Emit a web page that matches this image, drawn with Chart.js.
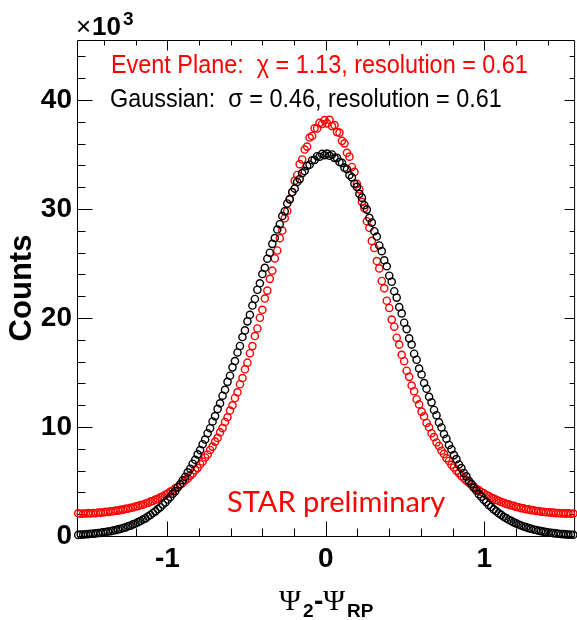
<!DOCTYPE html>
<html><head><meta charset="utf-8">
<script src="https://cdn.jsdelivr.net/npm/chart.js@4/dist/chart.umd.min.js"></script>
<style>html,body{margin:0;padding:0;overflow:hidden;background:#fff}canvas{display:block}</style>
</head><body>
<canvas id="c" width="580" height="620"></canvas>
<script>
// Histogram range: Psi_2 - Psi_RP from -pi/2 to pi/2, 200 bins
const X_MIN = -Math.PI / 2, X_MAX = Math.PI / 2;
const N_BINS = 200;
const binCenters = Array.from({length: N_BINS}, (_, i) => X_MIN + (i + 0.5) * (X_MAX - X_MIN) / N_BINS);

// Counts (red: event plane), left half then right half
const eventPlaneLeft = [
  2080, 2040, 2070, 2060, 2100, 2070, 2110, 2090, 2150, 2140,
  2160, 2210, 2200, 2260, 2270, 2330, 2330, 2400, 2420, 2490,
  2510, 2590, 2610, 2700, 2740, 2840, 2870, 2980, 3030, 3150,
  3210, 3340, 3410, 3560, 3640, 3790, 3890, 4070, 4180, 4370,
  4500, 4720, 4870, 5110, 5280, 5540, 5740, 6030, 6250, 6580,
  6830, 7200, 7480, 7890, 8200, 8660, 9000, 9510, 9900, 10460,
  10890, 11510, 11990, 12660, 13180, 13920, 14490, 15290, 15900, 16770,
  17420, 18340, 19040, 20020, 20750, 21780, 22510, 23590, 24340, 25460,
  26190, 27320, 28020, 29150, 29820, 30920, 31540, 32580, 33120, 34110,
  34540, 35450, 35720, 36550, 36700, 37400, 37380, 37900, 37800, 38150
];
const eventPlaneRight = [
  37850, 38180, 37600, 37700, 37050, 37000, 36250, 36020, 35150, 34800,
  33850, 33400, 32300, 31800, 30650, 30080, 28880, 28270, 27070, 26420,
  25220, 24550, 23390, 22720, 21580, 20920, 19850, 19200, 18190, 17560,
  16620, 16030, 15160, 14600, 13800, 13280, 12550, 12070, 11410, 10970,
  10370, 9970, 9430, 9070, 8580, 8260, 7820, 7530, 7140, 6880,
  6530, 6290, 5990, 5770, 5500, 5310, 5070, 4900, 4680, 4530,
  4340, 4210, 4030, 3920, 3760, 3660, 3520, 3440, 3310, 3230,
  3120, 3050, 2950, 2900, 2800, 2760, 2670, 2640, 2560, 2530,
  2460, 2440, 2370, 2360, 2300, 2290, 2230, 2230, 2180, 2180,
  2140, 2140, 2100, 2110, 2070, 2090, 2050, 2080, 2040, 2070
];
// Counts (black: Gaussian), left half then right half
const gaussianLeft = [
  100, 130, 130, 160, 170, 200, 210, 240, 270, 290,
  330, 360, 410, 440, 500, 540, 610, 650, 740, 790,
  890, 950, 1070, 1140, 1270, 1370, 1510, 1620, 1790, 1920,
  2110, 2260, 2470, 2640, 2890, 3080, 3350, 3570, 3880, 4120,
  4470, 4740, 5120, 5420, 5840, 6170, 6630, 6990, 7490, 7880,
  8420, 8850, 9430, 9890, 10510, 11000, 11660, 12170, 12870, 13410,
  14140, 14700, 15470, 16050, 16840, 17430, 18250, 18860, 19690, 20290,
  21140, 21740, 22590, 23180, 24030, 24600, 25440, 25990, 26800, 27330,
  28110, 28600, 29350, 29790, 30500, 30880, 31550, 31870, 32480, 32740,
  33290, 33480, 33950, 34060, 34470, 34500, 34840, 34790, 35050, 34930
];
const gaussianRight = [
  35080, 34880, 35000, 34690, 34690, 34310, 34230, 33790, 33640, 33120,
  32900, 32320, 32030, 31390, 31040, 30340, 29940, 29190, 28750, 27960,
  27470, 26650, 26130, 25290, 24740, 23880, 23320, 22450, 21870, 21000,
  20420, 19560, 18980, 18130, 17560, 16720, 16170, 15360, 14820, 14030,
  13510, 12770, 12260, 11560, 11080, 10420, 9960, 9350, 8920, 8350,
  7950, 7420, 7050, 6560, 6230, 5780, 5470, 5060, 4790, 4420,
  4170, 3840, 3610, 3320, 3110, 2850, 2670, 2440, 2280, 2080,
  1940, 1760, 1640, 1490, 1390, 1250, 1160, 1050, 970, 870,
  810, 720, 670, 590, 550, 490, 450, 400, 370, 320,
  300, 260, 240, 210, 190, 170, 150, 130, 120, 110
];
const eventPlaneCounts = eventPlaneLeft.concat(eventPlaneRight);
const gaussianCounts = gaussianLeft.concat(gaussianRight);

const xTickValues = [-1, 0, 1];
const xTickLabels = ['-1', '0', '1'];
const xMinorTicks = [-1.4, -1.2, -0.8, -0.6, -0.4, -0.2, 0.2, 0.4, 0.6, 0.8, 1.2, 1.4];
const yTickValues = [0, 10000, 20000, 30000, 40000];
const yTickLabels = ['0', '10', '20', '30', '40'];
const yMinorTicks = [2000, 4000, 6000, 8000, 12000, 14000, 16000, 18000, 22000, 24000, 26000, 28000,
                     32000, 34000, 36000, 38000, 42000, 44000];
const Y_MAX = 45500;

const legendTexts = ['Event Plane:  \u03C7 = 1.13, resolution = 0.61', 'Gaussian:  \u03C3 = 0.46, resolution = 0.61'];
const legendColors = ['#ff0000', '#000000'];
const watermark = 'STAR preliminary';
const yTitle = 'Counts';

const SANS = '"Liberation Sans", Arial, Helvetica, sans-serif';

const rootFrame = {
  id: 'rootFrame',
  beforeDatasetsDraw(chart) {
    const ctx = chart.ctx;
    const a = chart.chartArea;
    const xs = chart.scales.x, ys = chart.scales.y;
    ctx.save();
    ctx.strokeStyle = '#000';
    ctx.lineWidth = 1;
    ctx.beginPath();
    const L = Math.round(a.left) + 0.5, T = Math.round(a.top) + 0.5, B = Math.round(a.bottom) + 0.5, R = a.right;
    ctx.rect(L, T, R - L, B - T);
    const vx = (v, bl, tl) => { const p = Math.round(xs.getPixelForValue(v)) + 0.5;
      ctx.moveTo(p, B); ctx.lineTo(p, B - bl); ctx.moveTo(p, T); ctx.lineTo(p, T + tl); };
    const vy = (v, ll, rl) => { const p = Math.round(ys.getPixelForValue(v)) + 0.5;
      ctx.moveTo(L, p); ctx.lineTo(L + ll, p); ctx.moveTo(R, p); ctx.lineTo(R - rl, p); };
    xTickValues.forEach(v => vx(v, 15, 10));
    xMinorTicks.forEach(v => vx(v, 8, 5));
    yTickValues.forEach(v => { if (v > 0) vy(v, 15, 10); });
    yMinorTicks.forEach(v => vy(v, 8, 5));
    ctx.stroke();
    ctx.restore();
  },
  afterDraw(chart) {
    const ctx = chart.ctx;
    ctx.save();
    ctx.textBaseline = 'alphabetic';
    ctx.textAlign = 'left';
    // x10^3
    ctx.fillStyle = '#000';
    ctx.font = '26px ' + SANS;
    ctx.fillText('\u00D7', 76, 35);
    ctx.font = 'bold 26px ' + SANS;
    ctx.fillText('10', 92, 35);
    ctx.font = 'bold 19px ' + SANS;
    ctx.fillText('3', 123, 25);
    // legend texts
    const lx = [111, 110], ly = [73, 107];
    legendTexts.forEach((t, i) => {
      ctx.save();
      ctx.translate(lx[i], ly[i]);
      ctx.scale(0.9, 1);
      ctx.font = '26px ' + SANS;
      ctx.fillStyle = legendColors[i];
      ctx.fillText(t, 0, 0);
      ctx.restore();
    });
    // STAR preliminary
    ctx.fillStyle = '#ff0000';
    ctx.font = '29px Lato, "Open Sans", sans-serif';
    ctx.fillText(watermark, 227, 512);
    // x title: Psi_2 - Psi_RP
    ctx.fillStyle = '#000';
    ctx.font = '30px "Liberation Serif", "Times New Roman", serif';
    ctx.fillText('\u03A8', 279, 610);
    ctx.font = 'bold 19px ' + SANS;
    ctx.fillText('2', 303, 617);
    ctx.font = 'bold 28px ' + SANS;
    ctx.fillText('-', 314, 610);
    ctx.font = '30px "Liberation Serif", "Times New Roman", serif';
    ctx.fillText('\u03A8', 323, 610);
    ctx.font = 'bold 19px ' + SANS;
    ctx.fillText('RP', 347, 617);
    ctx.restore();
  }
};

const ctx = document.getElementById('c').getContext('2d');
new Chart(ctx, {
  type: 'scatter',
  data: {
    datasets: [
      {
        label: 'Gaussian',
        data: binCenters.map((x, i) => ({x: x, y: gaussianCounts[i]})),
        borderColor: '#000000',
        backgroundColor: 'rgba(0,0,0,0)',
        pointRadius: 3.6,
        pointBorderWidth: 1.4,
        showLine: false,
        order: 0,
        clip: false
      },
      {
        label: 'Event Plane',
        data: binCenters.map((x, i) => ({x: x, y: eventPlaneCounts[i]})),
        borderColor: '#ff0000',
        backgroundColor: 'rgba(0,0,0,0)',
        pointRadius: 3.6,
        pointBorderWidth: 1.4,
        showLine: false,
        order: 1,
        clip: false
      }
    ]
  },
  options: {
    responsive: false,
    animation: false,
    devicePixelRatio: 1,
    events: [],
    layout: {padding: {left: 0, top: 40, right: 1.5, bottom: 0}},
    plugins: {legend: {display: false}, tooltip: {enabled: false}},
    scales: {
      x: {
        type: 'linear', min: X_MIN, max: X_MAX,
        grid: {display: false, drawTicks: false},
        border: {display: false},
        afterBuildTicks: s => { s.ticks = xTickValues.map(v => ({value: v})); },
        afterFit: s => { s.height = 84; },
        ticks: {
          autoSkip: false, maxRotation: 0, minRotation: 0, padding: 6, color: '#000',
          font: {family: SANS, size: 28, weight: 'bold'},
          callback: (v, i) => xTickLabels[i]
        }
      },
      y: {
        type: 'linear', min: 0, max: Y_MAX,
        grid: {display: false, drawTicks: false},
        border: {display: false},
        afterBuildTicks: s => { s.ticks = yTickValues.map(v => ({value: v})); },
        afterFit: s => { s.width = 77; },
        ticks: {
          autoSkip: false, padding: 5, color: '#000',
          font: {family: SANS, size: 28, weight: 'bold'},
          callback: (v, i) => yTickLabels[i]
        },
        title: {
          display: true, text: yTitle, color: '#000',
          font: {family: SANS, size: 31, weight: 'bold'},
          padding: {top: 4, bottom: 0}
        }
      }
    }
  },
  plugins: [rootFrame]
});
</script>
</body></html>
